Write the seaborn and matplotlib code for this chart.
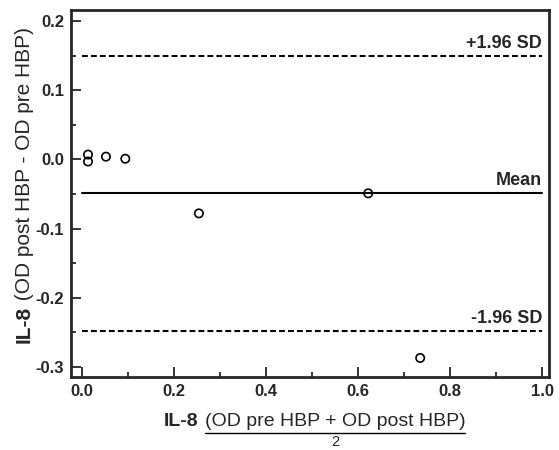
import matplotlib
matplotlib.use("Agg")
import matplotlib.pyplot as plt
import seaborn as sns
import pandas as pd
from matplotlib.lines import Line2D
from matplotlib.ticker import MultipleLocator, FormatStrFormatter

# ── Data (Bland-Altman, IL-8) ───────────────────────────────────────────────
mean_od = [0.013, 0.013, 0.052, 0.094, 0.254, 0.622, 0.735]
diff_od = [0.007, -0.003, 0.004, 0.001, -0.078, -0.049, -0.287]
limit_names = ["+1.96 SD", "Mean", "-1.96 SD"]
limit_values = [0.149, -0.049, -0.248]
limit_styles = [(0, (2.8, 1.5)), "-", (0, (2.8, 1.5))]

W, H = 559, 450

sns.set_style("ticks")
plt.rcParams["font.family"] = ["Liberation Sans", "DejaVu Sans"]
plt.rcParams["axes.unicode_minus"] = False


def fx(px):
    return px / W


def fy(py):
    return 1 - py / H


fig = plt.figure(figsize=(W / 100, H / 100), dpi=100)
ax = fig.add_axes([fx(71), fy(377), (549 - 71) / W, (377 - 10) / H])

df = pd.DataFrame({"mean": mean_od, "diff": diff_od})
sns.scatterplot(data=df, x="mean", y="diff", ax=ax, marker="o", s=36,
                color="black", linewidth=1.2, zorder=3)
for coll in ax.collections:
    coll.set_facecolor("none")
    coll.set_edgecolor("black")

for name, val, ls in zip(limit_names, limit_values, limit_styles):
    ax.plot([0, 1], [val, val], color="black", linestyle=ls, linewidth=1.5, zorder=2)
    ax.annotate(name, (1.0, val), xytext=(0, 3), textcoords="offset points",
                ha="right", va="bottom", fontsize=13, fontweight="bold")

ax.set_xlim(-0.024, 1.015)
ax.set_ylim(-0.3145, 0.216)
ax.xaxis.set_major_locator(MultipleLocator(0.2))
ax.xaxis.set_minor_locator(MultipleLocator(0.1))
ax.yaxis.set_major_locator(MultipleLocator(0.1))
ax.yaxis.set_minor_locator(MultipleLocator(0.05))
ax.xaxis.set_major_formatter(FormatStrFormatter("%.1f"))
ax.yaxis.set_major_formatter(FormatStrFormatter("%.1f"))
ax.tick_params(which="major", direction="in", length=7, width=1.3,
               labelsize=12, pad=5)
ax.tick_params(which="minor", direction="in", length=3.5, width=1.3)
for lab in ax.get_xticklabels() + ax.get_yticklabels():
    lab.set_fontweight("bold")
for sp in ax.spines.values():
    sp.set_visible(True)
    sp.set_linewidth(2)
ax.set_xlabel("")
ax.set_ylabel("")

# ── Axis titles: bold "IL-8" + regular text, x one as a fraction ────────────
renderer = fig.canvas.get_renderer()

t1 = fig.text(fx(30), fy(343), "IL-8", rotation=90, rotation_mode="anchor",
              ha="left", va="baseline", fontsize=15, fontweight="bold")
bb = t1.get_window_extent(renderer)
fig.text(fx(30), bb.y1 / H, " (OD post HBP - OD pre HBP)", rotation=90,
         rotation_mode="anchor", ha="left", va="baseline", fontsize=15)

t2 = fig.text(fx(164), fy(426), "IL-8", ha="left", va="baseline",
              fontsize=14, fontweight="bold")
bb = t2.get_window_extent(renderer)
num = fig.text(bb.x1 / W + fx(6), fy(426), "(OD pre HBP + OD post HBP)",
               ha="left", va="baseline", fontsize=14)
nb = num.get_window_extent(renderer)
fig.add_artist(Line2D([nb.x0 / W, nb.x1 / W], [fy(433), fy(433)],
                      color="black", linewidth=1.0, transform=fig.transFigure))
fig.text((nb.x0 + nb.x1) / 2 / W, fy(449.5), "2", ha="center", va="bottom",
         fontsize=10.5)

fig.savefig("out.png", dpi=100)
